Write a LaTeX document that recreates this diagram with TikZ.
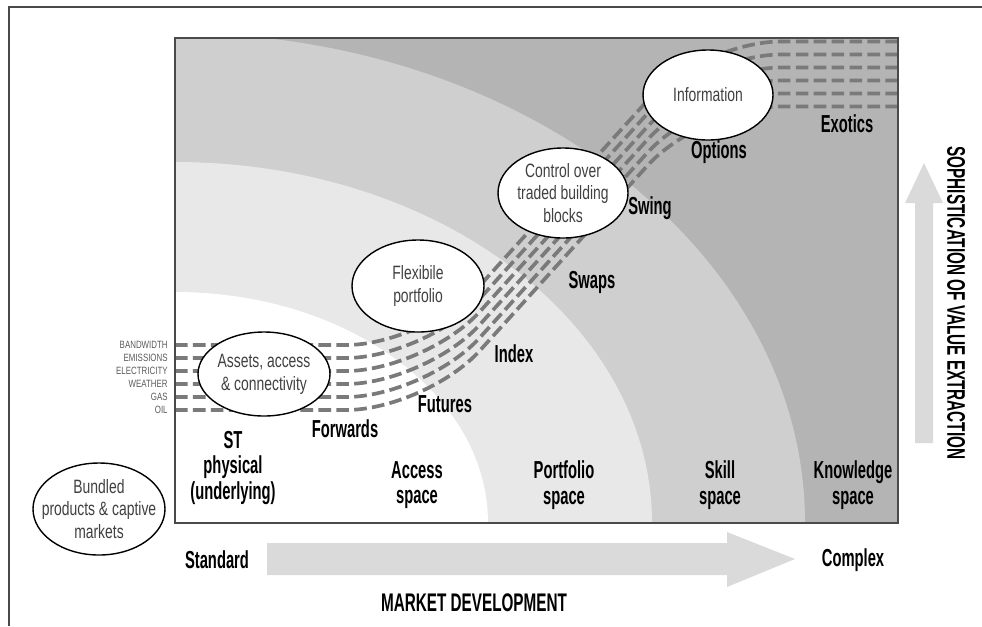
\documentclass[tikz,border=0pt]{standalone}
\usepackage{fontspec}
\usepackage{tikz}
\usetikzlibrary{calc}
\newfontfamily\labfont{Liberation Sans}[FakeStretch=0.6]
\newfontfamily\bubfont{Liberation Sans}[FakeStretch=0.72]
\newfontfamily\mktfont{Liberation Sans}[FakeStretch=0.75]
\definecolor{knowgray}{HTML}{B4B4B4}
\definecolor{skillgray}{HTML}{CFCFCF}
\definecolor{portgray}{HTML}{E8E8E8}
\definecolor{arrowgray}{HTML}{DADADA}
\definecolor{dashgray}{HTML}{7A7A7A}
\definecolor{framegray}{HTML}{4A4A4A}
\tikzset{
	lab/.style={font=\labfont\bfseries\fontsize{14}{14.5}\selectfont, text=black, align=center, inner sep=1pt},
	axislab/.style={lab, font=\labfont\bfseries\fontsize{14.5}{15}\selectfont},
	bubtext/.style={font=\bubfont\fontsize{11}{13}\selectfont, text=black!75, align=center, inner sep=0pt},
	bubble/.style={draw=black, line width=0.8pt, fill=white},
	mktlab/.style={font=\mktfont\fontsize{6}{6}\selectfont, text=black!65, anchor=east, inner sep=0pt, xshift=-4pt},
	bundle/.style={draw=dashgray, line width=2.1pt, dash pattern=on 7.2pt off 3pt, rounded corners=1.6cm},
	bigarrow/.style={fill=arrowgray, draw=none}
}
\begin{document}
\begin{tikzpicture}[x=0.02cm, y=-0.02cm]
	\useasboundingbox (0,0) rectangle (982,626);
	\draw[framegray, line width=1.2pt] (9,626) -- (9,7) -- (982,7);
	\begin{scope}
		\clip (175,38) rectangle (898,523);
		\fill[knowgray] (175,38) rectangle (898,523);
		\fill[skillgray] (175,523) ellipse (630 and 490);
		\fill[portgray] (175,523) ellipse (477 and 361);
		\fill[white] (175,523) ellipse (313 and 231);
	\end{scope}
	\foreach \e/\mkt [count=\i] in {-32.5/BANDWIDTH, -19.5/EMISSIONS, -6.5/ELECTRICITY, 6.5/WEATHER, 19.5/GAS, 32.5/OIL} {
		\coordinate (src\i) at (175,{377.5+\e});
		\coordinate (dst\i) at (898,{74+\e});
		\node[mktlab] (mkt\i) at (src\i) {\mkt};
		\draw[bundle] (src\i) -- (426,{377.5+\e}) -- (701,{74+\e}) -- (dst\i);
	}
	\draw[bubble] (264,374) ellipse (66 and 42) node[bubtext] (assets) {Assets, access\\\& connectivity};
	\draw[bubble] (418,286) ellipse (66 and 46) node[bubtext] (flex) {Flexibile\\portfolio};
	\draw[bubble] (563,193) ellipse (65 and 45) node[bubtext] (control) {Control over\\traded building\\blocks};
	\draw[bubble] (708,95) ellipse (65 and 45) node[bubtext] (info) {Information};
	\draw[bubble] (99,509) ellipse (66 and 46) node[bubtext] (bundled) {Bundled\\products \& captive\\markets};
	\draw[framegray, line width=1.2pt] (175,38) rectangle (898,523);
	\node[lab] (forwards) at (345,429) {Forwards};
	\node[lab] (futures) at (445,404) {Futures};
	\node[lab] (index) at (514,354) {Index};
	\node[lab] (swaps) at (592,282) {Swaps};
	\node[lab] (swing) at (650,208) {Swing};
	\node[lab] (options) at (719,152) {Options};
	\node[lab] (exotics) at (847,124) {Exotics};
	\node[lab] (stphys) at (233,468) {ST\\physical\\(underlying)};
	\node[lab] (access) at (417,485) {Access\\space};
	\node[lab] (portfolio) at (564,485) {Portfolio\\space};
	\node[lab] (skill) at (720,485) {Skill\\space};
	\node[lab] (knowledge) at (853,485) {Knowledge\\space};
	\fill[bigarrow] (267,543) -- (727,543) -- (727,532) -- (795,559) -- (727,587) -- (727,575) -- (267,575) -- cycle;
	\fill[bigarrow] (915,443) -- (915,203) -- (905,203) -- (924,163) -- (943,203) -- (933,203) -- (933,443) -- cycle;
	\node[lab] (standard) at (217,560) {Standard};
	\node[lab] (complex) at (853,560) {Complex};
	\node[axislab] (mktdev) at (474,603) {MARKET DEVELOPMENT};
	\node[axislab, rotate=-90] (sophist) at (956,303) {SOPHISTICATION OF VALUE EXTRACTION};
\end{tikzpicture}
\end{document}
